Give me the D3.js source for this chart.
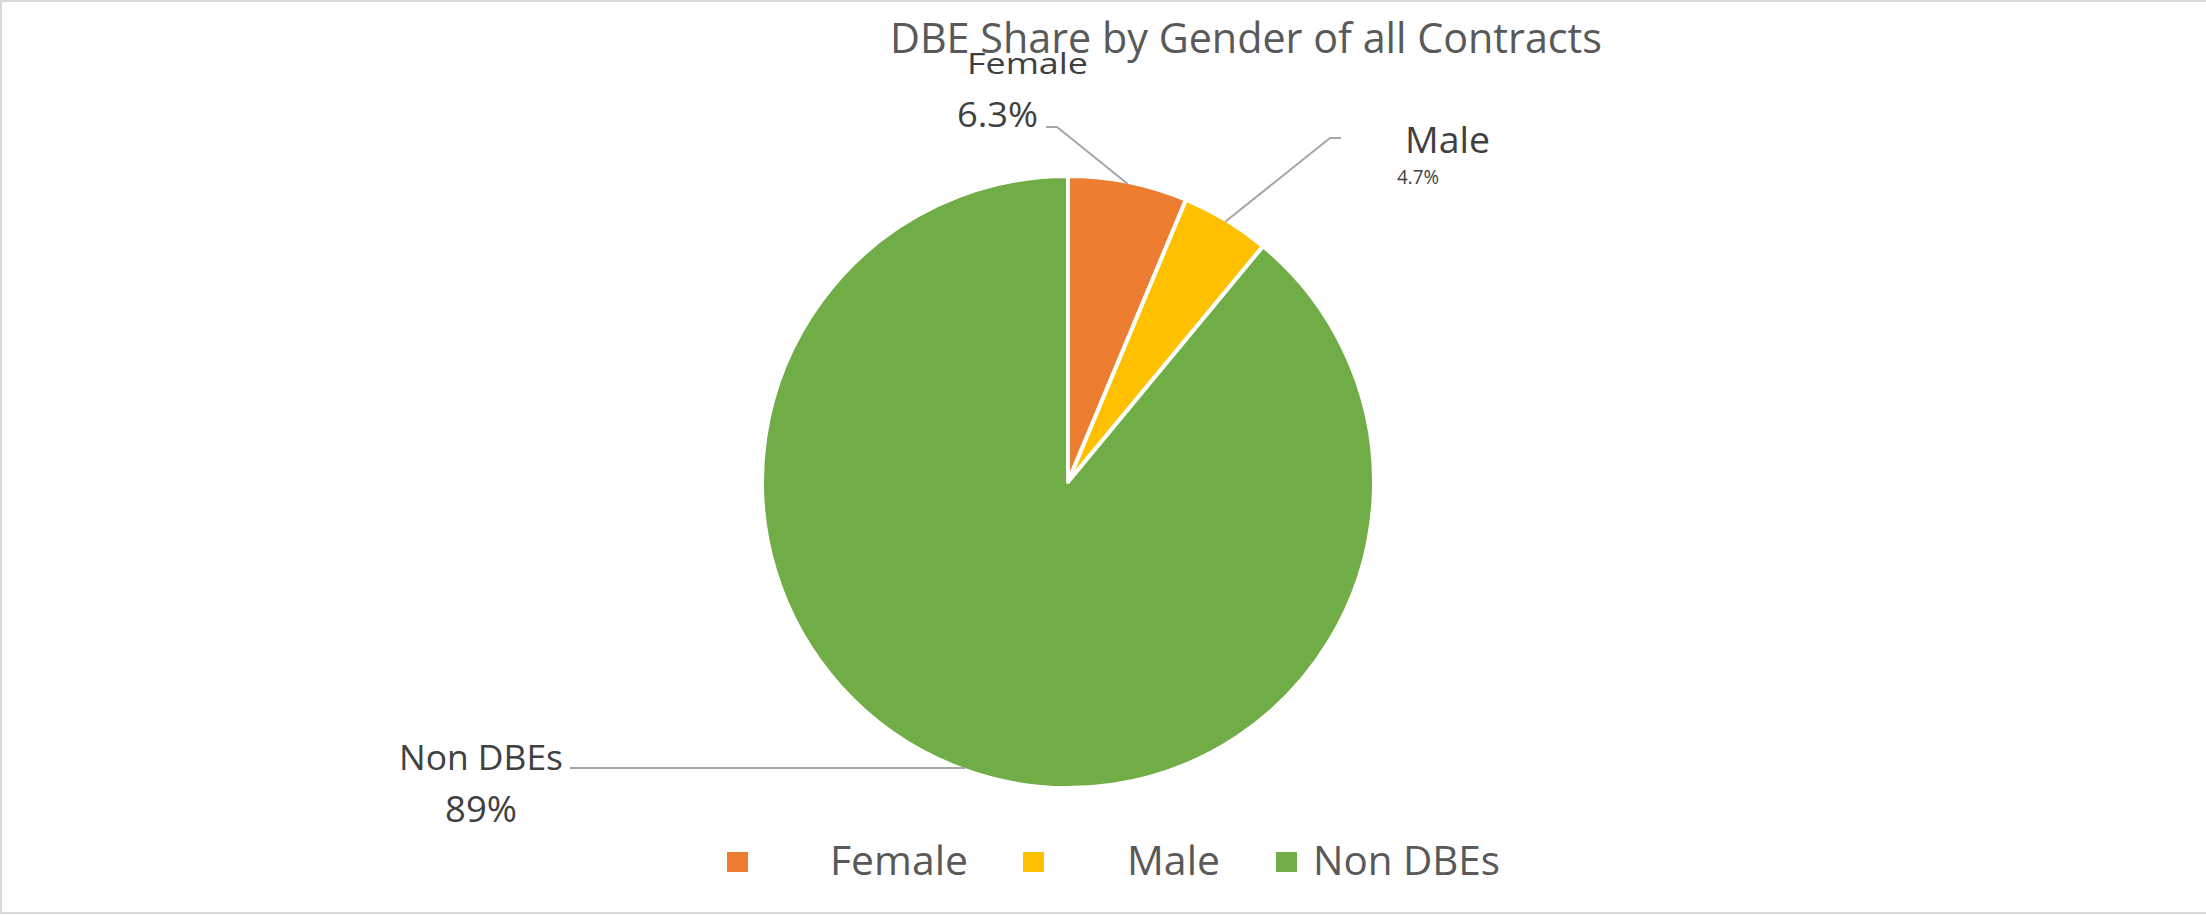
<!DOCTYPE html>
<html>
<head>
<meta charset="utf-8">
<script src="https://cdn.jsdelivr.net/npm/d3@7"></script>
<style>
  html, body { margin: 0; padding: 0; background: #fff; }
  svg { display: block; font-family: "Open Sans", "Noto Sans", sans-serif; }
</style>
</head>
<body>
<div id="chart"></div>
<script>
// Data
const categories = ["Female", "Male", "Non DBEs"];
const shares = [6.3, 4.7, 89];
const shareLabels = ["6.3%", "4.7%", "89%"];
const colors = ["#ED7D31", "#FFC000", "#70AD47"];

// Layout of the data labels (name line, value line, elbow of leader line)
const labelLayout = [
  { nameX: 967, nameY: 74, nameSize: 29, nameW: 121, valX: 957, valY: 127, valSize: 35, valW: 81, elbow: [1057, 127], end: [1046, 127] },
  { nameX: 1405, nameY: 153, nameSize: 36, nameW: 85, valX: 1397, valY: 184, valSize: 20, valW: 42, elbow: [1330, 138], end: [1341, 138] },
  { nameX: 399, nameY: 770, nameSize: 35, nameW: 164, valX: 445, valY: 822, valSize: 37, valW: 72, elbow: null, end: [570, 770] }
];

// Legend layout
const legendSquareX = [727, 1023, 1276];
const legendTextX = [830, 1127, 1313];
const legendTextW = [138, 93, 187];

const width = 2206;
const height = 915;
const cx = 1068, cy = 482, radius = 306;

const svg = d3.select("#chart")
  .append("svg")
  .attr("width", width)
  .attr("height", height);

// chart area border
svg.append("rect")
  .attr("x", 1)
  .attr("y", 1)
  .attr("width", width + 4)
  .attr("height", height - 3)
  .attr("fill", "#fff")
  .attr("stroke", "#d9d9d9")
  .attr("stroke-width", 2);

// Title
svg.append("text")
  .attr("x", 890)
  .attr("y", 53)
  .attr("textLength", 712)
  .attr("lengthAdjust", "spacingAndGlyphs")
  .style("font-size", "42px")
  .style("fill", "#595959")
  .text("DBE Share by Gender of all Contracts");

const pieData = categories.map((c, i) => ({ name: c, value: shares[i], label: shareLabels[i], color: colors[i], i: i }));

const pie = d3.pie().sort(null).value((d) => d.value);
const arcs = pie(pieData);

const arc = d3.arc().innerRadius(0).outerRadius(radius);

const g = svg.append("g").attr("transform", `translate(${cx},${cy})`);

g.selectAll("path")
  .data(arcs)
  .join("path")
  .attr("d", arc)
  .attr("fill", (d) => d.data.color)
  .attr("stroke", "#fff")
  .attr("stroke-width", 4)
  .attr("stroke-linejoin", "round");

// Leader lines: from outer edge at mid angle to the label
const edgePoint = (d) => {
  const a = (d.startAngle + d.endAngle) / 2;
  return [cx + (radius - 2) * Math.sin(a), cy - (radius - 2) * Math.cos(a)];
};

svg.append("g")
  .selectAll("polyline")
  .data(arcs)
  .join("polyline")
  .attr("points", (d) => {
    const L = labelLayout[d.index];
    const p = edgePoint(d);
    const pts = [p];
    if (L.elbow) pts.push(L.elbow);
    else pts.push([L.end[0], p[1]]);
    if (L.elbow) pts.push(L.end);
    return pts.map((q) => q.join(",")).join(" ");
  })
  .attr("fill", "none")
  .attr("stroke", "#a6a6a6")
  .attr("stroke-width", 2);

// Data labels
const labels = svg.append("g");
labels.selectAll("text.name")
  .data(arcs)
  .join("text")
  .attr("class", "name")
  .attr("x", (d) => labelLayout[d.index].nameX)
  .attr("y", (d) => labelLayout[d.index].nameY)
  .attr("textLength", (d) => labelLayout[d.index].nameW)
  .attr("lengthAdjust", "spacingAndGlyphs")
  .style("font-size", (d) => labelLayout[d.index].nameSize + "px")
  .style("fill", "#404040")
  .text((d) => d.data.name);

labels.selectAll("text.val")
  .data(arcs)
  .join("text")
  .attr("class", "val")
  .attr("x", (d) => labelLayout[d.index].valX)
  .attr("y", (d) => labelLayout[d.index].valY)
  .attr("textLength", (d) => labelLayout[d.index].valW)
  .attr("lengthAdjust", "spacingAndGlyphs")
  .style("font-size", (d) => labelLayout[d.index].valSize + "px")
  .style("fill", "#404040")
  .text((d) => d.data.label);

// Legend
const legend = svg.append("g");
const items = legend.selectAll("g")
  .data(pieData)
  .join("g");

items.append("rect")
  .attr("x", (d) => legendSquareX[d.i])
  .attr("y", 852)
  .attr("width", 21)
  .attr("height", 20)
  .attr("fill", (d) => d.color);

items.append("text")
  .attr("x", (d) => legendTextX[d.i])
  .attr("y", 875)
  .attr("textLength", (d) => legendTextW[d.i])
  .attr("lengthAdjust", "spacingAndGlyphs")
  .style("font-size", "40px")
  .style("fill", "#595959")
  .text((d) => d.name);
</script>
</body>
